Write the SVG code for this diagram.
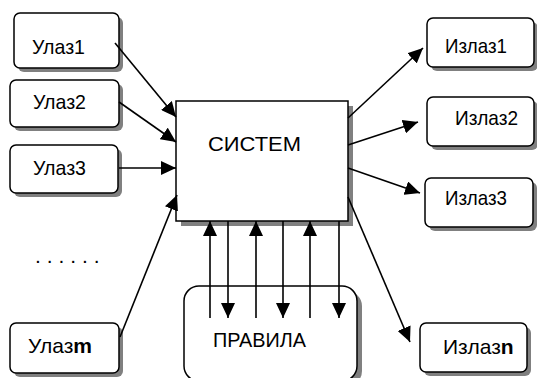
<svg xmlns="http://www.w3.org/2000/svg" width="537" height="378" viewBox="0 0 537 378">
<style>
.box{fill:#fff;stroke:#000;stroke-width:1.5}
.sh{fill:#808080}
.t{font-family:"Liberation Sans",Arial,sans-serif;font-size:21px;fill:#000}
.c{stroke:#000;stroke-width:1.6;fill:none;marker-end:url(#ah)}
</style>
<defs>
<marker id="ah" markerUnits="userSpaceOnUse" markerWidth="16" markerHeight="14" refX="15" refY="7" orient="auto">
<path d="M0,0 L15,7 L0,14 Z" fill="#000"/>
</marker>
</defs>
<rect width="537" height="378" fill="#fff"/>
<g id="u1"><rect class="sh" x="18" y="17" width="105" height="55" rx="6"/><rect class="box" x="14" y="13" width="105" height="55" rx="6"/><text class="t" x="32" y="54" textLength="53" lengthAdjust="spacingAndGlyphs">Улаз1</text></g>
<g id="u2"><rect class="sh" x="14" y="84" width="109" height="47" rx="6"/><rect class="box" x="10" y="80" width="109" height="47" rx="6"/><text class="t" x="33" y="109" textLength="53" lengthAdjust="spacingAndGlyphs">Улаз2</text></g>
<g id="u3"><rect class="sh" x="14" y="149" width="108" height="48" rx="6"/><rect class="box" x="10" y="145" width="108" height="48" rx="6"/><text class="t" x="33" y="175" textLength="53" lengthAdjust="spacingAndGlyphs">Улаз3</text></g>
<g id="um"><rect class="sh" x="14" y="327" width="109" height="50" rx="6"/><rect class="box" x="10" y="323" width="109" height="50" rx="6"/><text class="t" x="28" y="353" font-size="20">Улаз<tspan font-weight="bold">m</tspan></text></g>
<g id="dots"><text class="t" x="35" y="263" letter-spacing="5.9">......</text></g>
<g id="sys"><rect class="sh" x="181" y="106" width="172" height="120"/><rect class="box" x="176" y="101" width="172" height="120"/><text class="t" x="208" y="151" font-size="27" textLength="93" lengthAdjust="spacingAndGlyphs">СИСТЕМ</text></g>
<g id="rules"><rect class="sh" x="189" y="291" width="173" height="95" rx="15"/><rect class="box" x="184" y="286" width="173" height="95" rx="15"/><text class="t" x="213" y="347" textLength="93" lengthAdjust="spacingAndGlyphs">ПРАВИЛА</text></g>
<g id="o1"><rect class="sh" x="431" y="22" width="107" height="49" rx="6"/><rect class="box" x="427" y="18" width="107" height="49" rx="6"/><text class="t" x="445" y="53" textLength="62" lengthAdjust="spacingAndGlyphs">Излаз1</text></g>
<g id="o2"><rect class="sh" x="431" y="101" width="107" height="49" rx="6"/><rect class="box" x="427" y="97" width="107" height="49" rx="6"/><text class="t" x="455" y="125" textLength="63" lengthAdjust="spacingAndGlyphs">Излаз2</text></g>
<g id="o3"><rect class="sh" x="429" y="182" width="108" height="49" rx="6"/><rect class="box" x="425" y="178" width="108" height="49" rx="6"/><text class="t" x="445" y="205" textLength="62" lengthAdjust="spacingAndGlyphs">Излаз3</text></g>
<g id="on"><rect class="sh" x="424" y="327" width="107" height="49" rx="6"/><rect class="box" x="420" y="323" width="107" height="49" rx="6"/><text class="t" x="443" y="354" font-size="20">Излаз<tspan font-weight="bold">n</tspan></text></g>
<g id="connectors">
<line class="c" x1="115" y1="43" x2="176" y2="117"/>
<line class="c" x1="119" y1="102" x2="176" y2="142"/>
<line class="c" x1="119" y1="168" x2="176" y2="168"/>
<line class="c" x1="120" y1="337" x2="177" y2="195"/>
<line class="c" x1="348" y1="118" x2="423" y2="48"/>
<line class="c" x1="348" y1="145" x2="418" y2="122"/>
<line class="c" x1="348" y1="168" x2="420" y2="193"/>
<line class="c" x1="348" y1="197" x2="410" y2="342"/>
<line class="c" x1="210" y1="318" x2="210" y2="221"/>
<line class="c" x1="228" y1="221" x2="228" y2="318"/>
<line class="c" x1="256" y1="318" x2="256" y2="221"/>
<line class="c" x1="283" y1="221" x2="283" y2="318"/>
<line class="c" x1="310" y1="318" x2="310" y2="221"/>
<line class="c" x1="339" y1="221" x2="339" y2="318"/>
</g>
</svg>
